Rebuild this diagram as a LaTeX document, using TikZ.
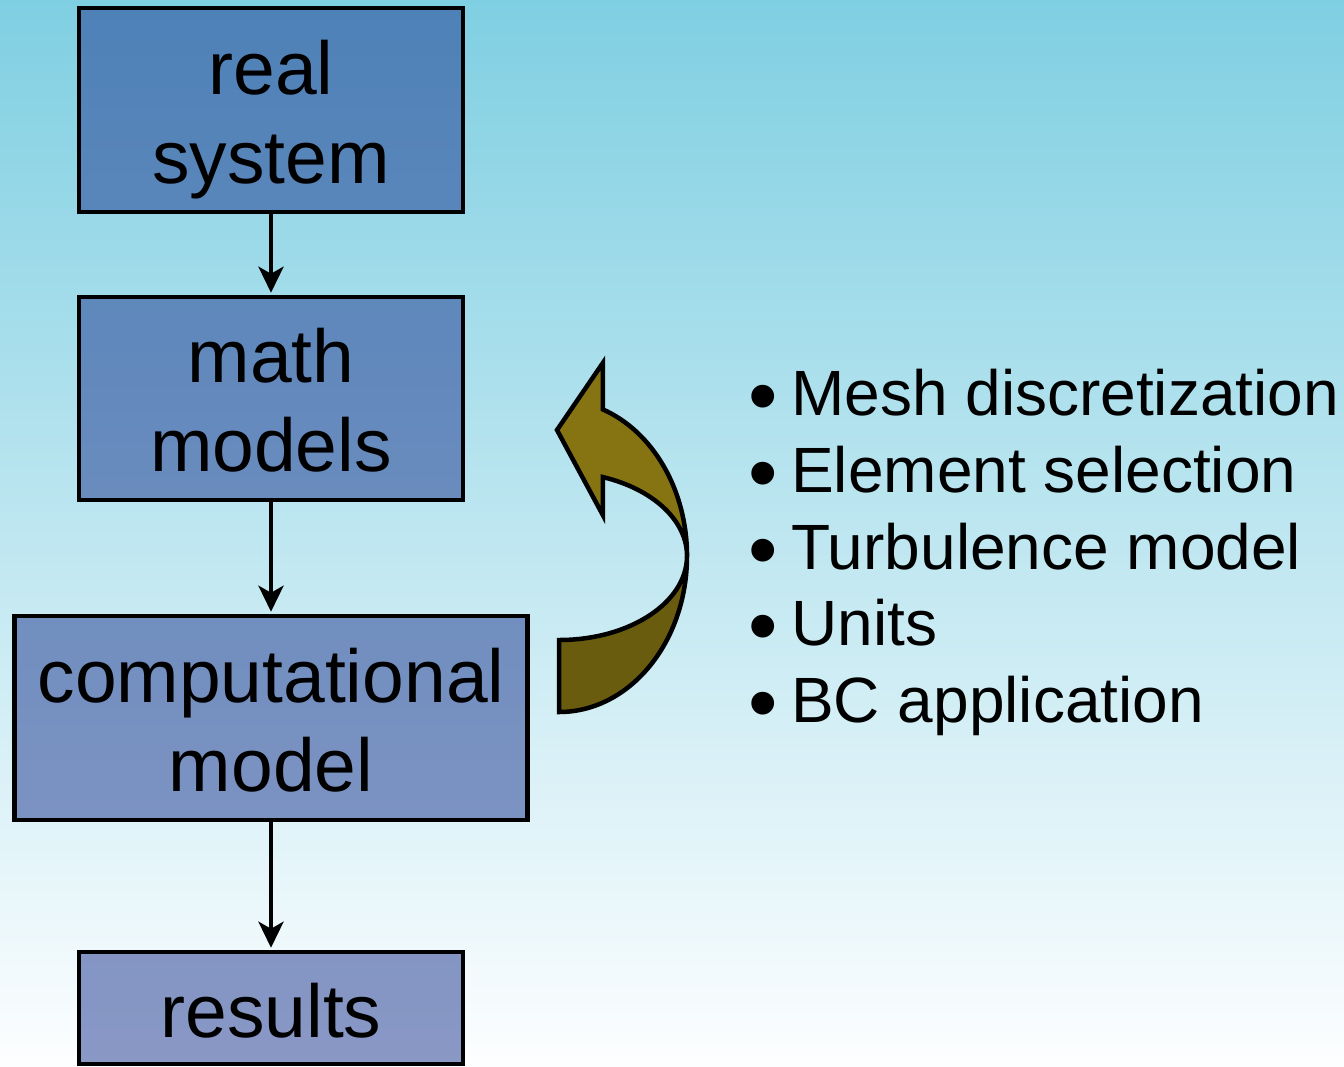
\documentclass[tikz,border=0pt]{standalone}
\usepackage{fontspec}
\setmainfont{Liberation Sans}
\usetikzlibrary{arrows.meta}
\definecolor{bgtop}{RGB}{127,207,226}
\definecolor{bgbot}{RGB}{253,254,255}
\definecolor{boxblue}{RGB}{33,59,145}
\definecolor{olivelight}{RGB}{133,116,17}
\definecolor{olivedark}{RGB}{106,92,14}
\newcommand{\bigbul}{\makebox[56pt][c]{\smash{\raisebox{-9.5pt}{\fontsize{84}{84}\selectfont •}}}}
\tikzset{
  flowbox/.style={draw=black, line width=4.5pt, fill=boxblue, fill opacity=0.52, text opacity=1, inner sep=0pt, minimum width=384pt},
  boxtext/.style={anchor=base, inner sep=0pt, font=\fontsize{75}{89}\selectfont},
  bullettext/.style={anchor=base west, inner sep=0pt, font=\fontsize{64}{77}\selectfont},
  flowarrow/.style={line width=4.5pt, -{Stealth[length=26pt,width=25pt,inset=7pt]}, shorten >=2pt},
  bentarrow/.style={draw=black, line width=4.5pt, line join=miter}
}
\begin{document}
\begin{tikzpicture}[x=1pt,y=1pt]
\useasboundingbox (0,0) rectangle (1344,-1066);
\shade[top color=bgtop, bottom color=bgbot] (0,0) rectangle (1344,-1066);

% boxes
\node[flowbox, minimum height=204pt] (rs) at (271,-110) {};
\node[flowbox, minimum height=203pt] (mm) at (271,-398.5) {};
\node[flowbox, minimum height=204pt, minimum width=513pt] (cm) at (271,-718) {};
\node[flowbox, minimum height=112pt] (res) at (271,-1008) {};

% box texts
\node[boxtext] (rs1) at (271,-94) {real};
\node[boxtext] (rs2) at (271,-183) {system};
\node[boxtext] (mm1) at (271,-382.5) {math};
\node[boxtext] (mm2) at (271,-471.5) {models};
\node[boxtext] (cm1) at (271,-702) {computational};
\node[boxtext] (cm2) at (271,-791) {model};
\node[boxtext] (res1) at (271,-1037) {results};

% connectors
\draw[flowarrow] (rs.south) -- (mm.north);
\draw[flowarrow] (mm.south) -- (cm.north);
\draw[flowarrow] (cm.south) -- (res.north);

% curved arrow
\filldraw[bentarrow, fill=olivedark] (559,-712) -- (559,-640)
  arc[start angle=-90, end angle=0, x radius=128, y radius=84]
  arc[start angle=0, end angle=-90, x radius=128, y radius=156] -- cycle;
\filldraw[bentarrow, fill=olivelight] (557,-430) -- (602.8,-363) -- (602.8,-409.4)
  arc[start angle=70, end angle=0, x radius=128, y radius=156]
  arc[start angle=0, end angle=70, x radius=128, y radius=84]
  -- (602.8,-515) -- cycle;

% bullet list
\node[bullettext] (b1) at (735,-415) {\bigbul Mesh discretization};
\node[bullettext] (b2) at (735,-492) {\bigbul Element selection};
\node[bullettext] (b3) at (735,-569) {\bigbul Turbulence model};
\node[bullettext] (b4) at (735,-645) {\bigbul Units};
\node[bullettext] (b5) at (735,-722) {\bigbul BC application};
\end{tikzpicture}
\end{document}
